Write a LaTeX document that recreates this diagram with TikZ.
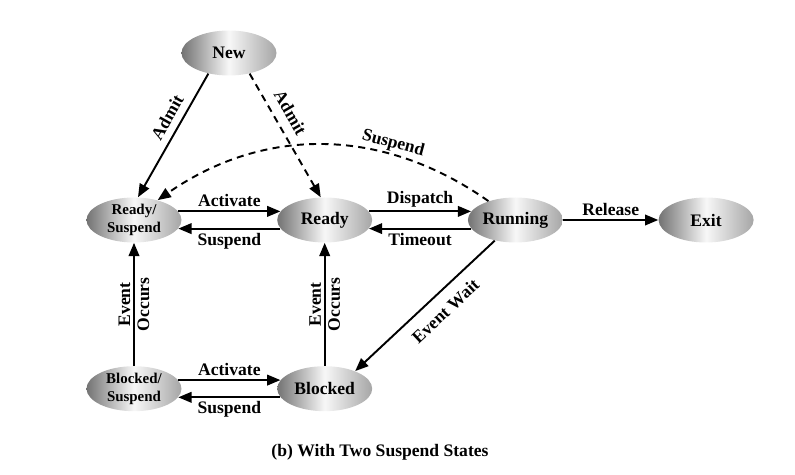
\documentclass[tikz,border=0pt]{standalone}
\usepackage{fontspec}
\setmainfont{Liberation Serif}
\usetikzlibrary{positioning,shapes.geometric,arrows.meta}
\begin{document}
\begin{tikzpicture}[node distance=1.9cm, auto]
    % Styles
    \tikzstyle{state} = [ellipse, shade, left color=black!55, right color=black!35, middle color=black!3, minimum width=1.9cm, minimum height=0.9cm, inner sep=0pt, align=center, font=\bfseries\fontsize{10}{11}\selectfont]
    \tikzstyle{substate} = [state, font=\bfseries\fontsize{8.5}{10}\selectfont]
    \tikzstyle{arrow} = [line width=1.1pt, ->, >={Triangle[length=7.5pt,width=6pt]}]
    \tikzstyle{lbl} = [font=\bfseries\fontsize{10}{12}\selectfont, inner sep=2pt]
    \useasboundingbox (0,0) rectangle (15.9,9.5);

    % Nodes
    \node[state] (new) at (4.58,8.44) {New};
    \node[substate] (readysusp) at (2.68,5.1) {Ready/\\Suspend};
    \node[state, right=of readysusp] (ready) {Ready};
    \node[state, right=of ready] (running) {Running};
    \node[state, right=of running] (exit) {Exit};
    \node[substate, below=2.46cm of readysusp] (blockedsusp) {Blocked/\\Suspend};
    \node[state, below=2.46cm of ready] (blocked) {Blocked};
    \node[lbl] (caption) at (7.6,0.46) {(b) With Two Suspend States};

    % Arrows
    \draw[arrow] (new.225) -- node[lbl, sloped, above, pos=0.41, inner sep=4pt] {Admit} (readysusp.80);
    \draw[arrow, dash pattern=on 4pt off 3pt] (new.-45) -- node[lbl, sloped, above, pos=0.38, inner sep=5pt] {Admit} (ready.100);
    \draw[arrow] (readysusp.11) -- node[lbl, above] {Activate} (ready.169);
    \draw[arrow] (ready.191) -- node[lbl, below] {Suspend} (readysusp.-11);
    \draw[arrow] (ready.11) -- node[lbl, above] {Dispatch} (running.169);
    \draw[arrow] (running.191) -- node[lbl, below] {Timeout} (ready.-11);
    \draw[arrow] (running) -- node[lbl, above] {Release} (exit);
    \draw[arrow, dash pattern=on 4pt off 3pt] (running.145) to[bend right=35] node[lbl, sloped, above, pos=0.3, inner sep=1pt] {Suspend} (readysusp.40);
    \draw[arrow] (running.225) -- node[lbl, sloped, below, pos=0.44, inner sep=6pt] {Event Wait} (blocked.30);
    \draw[arrow] (blockedsusp) -- node[lbl, sloped, above, inner sep=1.5pt] {Event} node[lbl, sloped, below, inner sep=1.5pt] {Occurs} (readysusp);
    \draw[arrow] (blocked) -- node[lbl, sloped, above, inner sep=1.5pt] {Event} node[lbl, sloped, below, inner sep=1.5pt] {Occurs} (ready);
    \draw[arrow] (blockedsusp.11) -- node[lbl, above] {Activate} (blocked.169);
    \draw[arrow] (blocked.191) -- node[lbl, below] {Suspend} (blockedsusp.-11);
\end{tikzpicture}
\end{document}
